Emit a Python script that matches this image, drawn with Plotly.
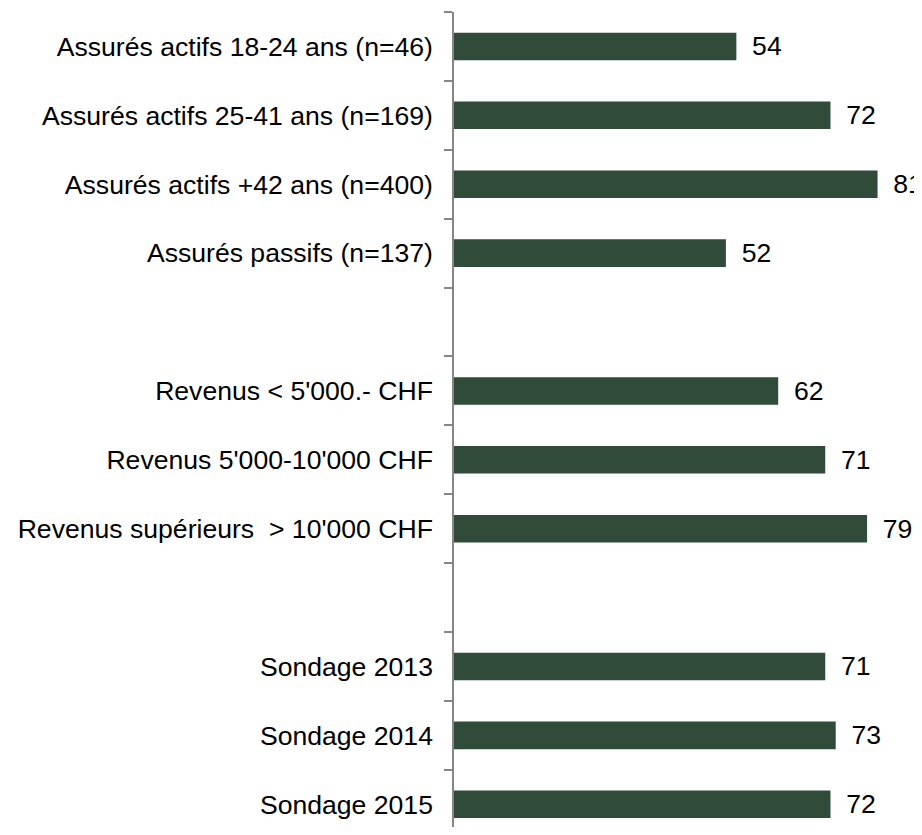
import plotly.graph_objects as go

categories = [
    "Assurés actifs 18-24 ans (n=46)",
    "Assurés actifs 25-41 ans (n=169)",
    "Assurés actifs +42 ans (n=400)",
    "Assurés passifs (n=137)",
    " ",
    "Revenus < 5'000.- CHF",
    "Revenus 5'000-10'000 CHF",
    "Revenus supérieurs  > 10'000 CHF",
    "  ",
    "Sondage 2013",
    "Sondage 2014",
    "Sondage 2015",
]
values = [54, 72, 81, 52, None, 62, 71, 79, None, 71, 73, 72]

BAR_COLOR = "#304B39"
FONT = "Liberation Sans, Arial, sans-serif"
FS = 26.6

fig = go.Figure(
    go.Bar(
        y=categories,
        x=values,
        orientation="h",
        marker=dict(color=BAR_COLOR, line=dict(width=0)),
        text=[("" if v is None else str(v)) for v in values],
        texttemplate=" \u2009%{text}",
        textposition="outside",
        textfont=dict(family=FONT, size=FS, color="#000000"),
        constraintext="none",
        cliponaxis=False,
        hoverinfo="skip",
    )
)

fig.update_layout(
    template="none",
    width=914,
    height=819,
    autosize=False,
    margin=dict(l=446, r=0, t=4, b=0, pad=0),
    paper_bgcolor="white",
    plot_bgcolor="white",
    bargap=0.6,
    showlegend=False,
    font=dict(family=FONT, size=FS, color="#000000"),
)

fig.update_xaxes(
    range=[0, 89.5],
    visible=False,
    showgrid=False,
    zeroline=False,
    automargin=False,
)

fig.update_yaxes(
    type="category",
    categoryorder="array",
    categoryarray=categories,
    range=[11.33, -0.5],
    tickson="boundaries",
    ticks="outside",
    ticklen=8,
    tickwidth=1.5,
    tickcolor="#868686",
    showline=True,
    linecolor="#868686",
    linewidth=1.5,
    showgrid=False,
    zeroline=False,
    automargin=False,
    tickfont=dict(family=FONT, size=FS, color="#000000"),
    ticklabelstandoff=14,
)

fig.write_html("out.html")
